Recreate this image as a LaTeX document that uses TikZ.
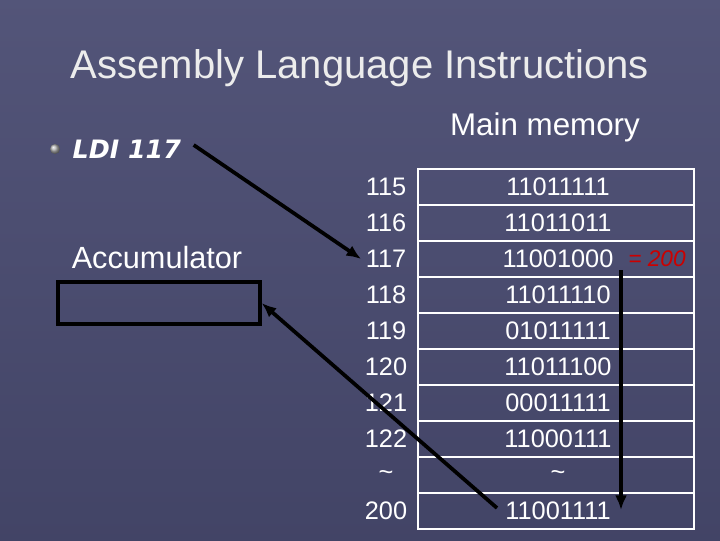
\documentclass[tikz,border=0pt]{standalone}
\usepackage{fontspec}
\usetikzlibrary{arrows.meta}
\setmainfont{Liberation Sans}
\newfontfamily\instrfont{DejaVu Sans}
\definecolor{fondo}{RGB}{78,80,120}
\begin{document}
\begin{tikzpicture}[x=0.75pt, y=-0.75pt,
    every node/.style={text=white, font=\fontsize{19}{22}\selectfont},
    celda/.style={draw=white, line width=1.5pt, minimum width=207pt, minimum height=27pt, inner sep=0pt},
    dir/.style={anchor=center},
    flecha/.style={-{Latex[length=11pt,width=9pt]}, line width=2.8pt, black}
]
% Fondo
\fill[top color=fondo!90!gray, bottom color=fondo!85!black] (0,0) rectangle (720,540);
\useasboundingbox (0,0) rectangle (720,540);
% Titulos
\node[text=white!85!gray, font=\fontsize{30}{34}\selectfont] (titulo) at (360,68) {Assembly Language Instructions};
\node[font=\fontsize{23.5}{26}\selectfont] (memoria) at (545,127) {Main memory};
\shade[ball color=gray!60] (55,149) circle (5);
\node[anchor=west, font=\instrfont\bfseries\itshape\fontsize{19}{22}\selectfont] (ldi) at (68,149) {LDI 117};
% Acumulador
\node[font=\fontsize{23}{26}\selectfont] (acctitulo) at (157,258) {Accumulator};
\node[draw=black, line width=3pt, minimum width=151pt, minimum height=32pt] (acc) at (159,303) {};
% Memoria
\foreach \i/\dirr/\val [count=\n from 0] in {115/115/11011111, 116/116/11011011, 117/117/11001000, 118/118/11011110, 119/119/01011111, 120/120/11011100, 121/121/00011111, 122/122/11000111, a/\textasciitilde/\textasciitilde, 200/200/11001111} {
  \node[celda] (c\i) at (556,187+36*\n) {};
  \node (v\i) at (558,187+36*\n) {\val};
  \node[dir] (d\i) at (386,187+36*\n) {\dirr};
}
\node[text=red!80!black, font=\itshape\fontsize{17}{20}\selectfont] (igual) at (657,259) {= 200};
% Flechas
\draw[flecha] (ldi.east) ++(8,-4) coordinate (ldifin) -- (d117.west);
\coordinate (bajoini) at (621,270);
\coordinate (bajofin) at (621,510);
\draw[flecha] (bajoini) -- (bajofin);
\coordinate (cargaini) at (497,508);
\draw[flecha] (cargaini) -- (acc.east);
\end{tikzpicture}
\end{document}
